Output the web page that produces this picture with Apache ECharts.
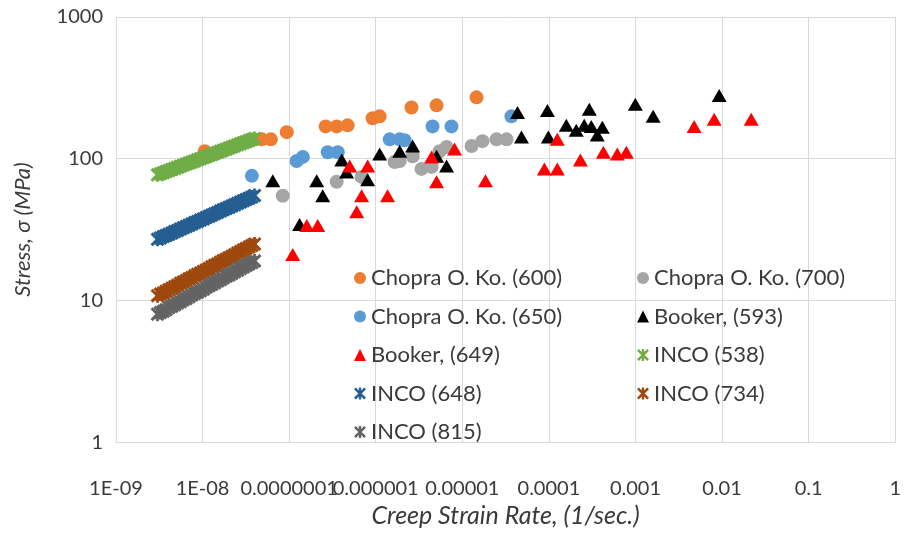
<!DOCTYPE html>
<html>
<head>
<meta charset="utf-8">
<script src="https://cdn.jsdelivr.net/npm/echarts@6/dist/echarts.min.js"></script>
<style>
html,body{margin:0;padding:0;background:#fff;}
#chart{width:904px;height:533px;}
</style>
</head>
<body>
<div id="chart"></div>
<script>
// ---- Data ----
const xTickLabels = ['1E-09','1E-08','0.0000001','0.000001','0.00001','0.0001','0.001','0.01','0.1','1'];
const yTickLabels = ['1','10','100','1000'];

const chopra600Rate   = [1.06e-8, 4.83e-8, 6.14e-8, 9.37e-8, 2.64e-7, 3.54e-7, 4.74e-7, 9.2e-7, 1.11e-6, 2.59e-6, 5.04e-6, 1.46e-5];
const chopra600Stress = [113, 137, 137, 154, 169, 169, 172, 193, 199, 230, 238, 271];

const chopra700Rate   = [8.43e-8, 3.54e-7, 6.87e-7, 1.65e-6, 1.89e-6, 2.67e-6, 3.38e-6, 4.42e-6, 5.46e-6, 6.58e-6, 1.28e-5, 1.71e-5, 2.48e-5, 3.24e-5];
const chopra700Stress = [54.8, 68.7, 74.4, 94.8, 96.4, 104, 84.7, 87.5, 113, 121, 123, 133, 137, 137];

const chopra650Rate   = [3.71e-8, 1.22e-7, 1.44e-7, 2.79e-7, 3.64e-7, 1.45e-6, 1.89e-6, 2.15e-6, 4.53e-6, 7.5e-6, 3.69e-5];
const chopra650Stress = [75.7, 96.4, 103, 111, 111, 137, 137, 135, 169, 169, 199];

const booker593Rate   = [6.47e-8, 1.32e-7, 2.08e-7, 2.44e-7, 4.05e-7, 4.61e-7, 8.07e-7, 1.11e-6, 1.89e-6, 2.67e-6, 5.04e-6, 6.58e-6,
                         4.34e-5, 4.82e-5, 9.62e-5, 9.86e-5, 1.59e-4, 2.07e-4, 2.56e-4, 2.93e-4, 3.09e-4, 3.62e-4, 4.14e-4, 9.96e-4, 1.6e-3, 9.27e-3];
const booker593Stress = [69.8, 34.3, 69.8, 54.8, 97.9, 80.7, 70.9, 108, 113, 123, 104, 88.9,
                         212, 142, 219, 142, 172, 159, 172, 223, 169, 147, 167, 242, 199, 279];

const booker649Rate   = [1.1e-7, 1.6e-7, 2.14e-7, 5.0e-7, 6.03e-7, 6.87e-7, 8.07e-7, 1.37e-6, 4.42e-6, 5.04e-6, 8.13e-6, 1.85e-5,
                         8.87e-5, 1.25e-4, 1.25e-4, 2.31e-4, 4.26e-4, 6.17e-4, 7.84e-4, 4.76e-3, 8.11e-3, 2.17e-2];
const booker649Stress = [21.1, 33.8, 33.8, 88.9, 42.3, 54.8, 88.9, 54.8, 103, 68.7, 117, 69.8,
                         84.7, 84.7, 137, 97.9, 111, 108, 111, 169, 190, 190];

const incoRate = [3.02e-9, 3.26e-9, 3.52e-9, 3.79e-9, 4.09e-9, 4.42e-9, 4.76e-9, 5.14e-9, 5.55e-9, 5.98e-9, 6.46e-9, 6.97e-9,
                  7.52e-9, 8.11e-9, 8.75e-9, 9.44e-9, 1.02e-8, 1.10e-8, 1.19e-8, 1.28e-8, 1.38e-8, 1.49e-8, 1.61e-8, 1.73e-8,
                  1.87e-8, 2.02e-8, 2.18e-8, 2.35e-8, 2.54e-8, 2.74e-8, 2.95e-8, 3.18e-8, 3.44e-8, 3.71e-8, 3.98e-8];
const inco538Stress = [77, 78.3, 79.7, 81.1, 82.5, 84, 85.4, 86.9, 88.5, 90, 91.6, 93.2, 94.8, 96.5, 98.2, 99.9, 101.6, 103.4,
                       105.2, 107.1, 109, 110.9, 112.8, 114.8, 116.8, 118.8, 120.9, 123, 125.2, 127.4, 129.6, 131.9, 134.2, 136.5, 139];
const inco648Stress = [27, 27.6, 28.2, 28.7, 29.3, 29.9, 30.6, 31.2, 31.9, 32.5, 33.2, 33.9, 34.6, 35.4, 36.1, 36.9, 37.6, 38.4,
                       39.2, 40.1, 40.9, 41.8, 42.7, 43.6, 44.5, 45.4, 46.4, 47.4, 48.4, 49.4, 50.4, 51.5, 52.6, 53.7, 55];
const inco734Stress = [10.8, 11.1, 11.3, 11.6, 11.9, 12.2, 12.5, 12.8, 13.2, 13.5, 13.8, 14.2, 14.5, 14.9, 15.3, 15.6, 16.0, 16.4,
                       16.8, 17.3, 17.7, 18.1, 18.6, 19.1, 19.5, 20.0, 20.5, 21.0, 21.6, 22.1, 22.7, 23.2, 23.8, 24.4, 25.0];
const inco815Stress = [8.0, 8.2, 8.4, 8.6, 8.9, 9.1, 9.3, 9.6, 9.8, 10.1, 10.3, 10.6, 10.9, 11.2, 11.4, 11.7, 12.0, 12.4,
                       12.7, 13.0, 13.3, 13.7, 14.0, 14.4, 14.8, 15.1, 15.5, 15.9, 16.3, 16.8, 17.2, 17.6, 18.1, 18.5, 19.0];

// ---- Chart ----
const FONT = 'Lato, "Open Sans", sans-serif';
const TEXT = '#3a3a3a';
const GRID = '#d9d9d9';
const STAR = 'path://M4 0L6 0L6 10L4 10Z M0 1.5L1.5 0L10 8.5L8.5 10Z M8.5 0L10 1.5L1.5 10L0 8.5Z';

function pairs(xs, ys){ return xs.map((x, i) => [x, ys[i]]); }

function sc(name, xs, ys, color, symbol, size){
  return {
    name: name, type: 'scatter', data: pairs(xs, ys),
    symbol: symbol, symbolSize: size,
    itemStyle: { color: color, opacity: 1 },
    emphasis: { disabled: true }
  };
}

const series = [
  sc('Chopra O. Ko. (600)', chopra600Rate, chopra600Stress, '#ED7D31', 'circle', 14),
  sc('Chopra O. Ko. (700)', chopra700Rate, chopra700Stress, '#A5A5A5', 'circle', 14),
  sc('Chopra O. Ko. (650)', chopra650Rate, chopra650Stress, '#5B9BD5', 'circle', 14),
  sc('Booker, (593)', booker593Rate, booker593Stress, '#000000', 'triangle', [15, 13]),
  sc('Booker, (649)', booker649Rate, booker649Stress, '#FF0000', 'triangle', [15, 13]),
  sc('INCO (538)', incoRate, inco538Stress, '#70AD47', STAR, 14),
  sc('INCO (648)', incoRate, inco648Stress, '#255E91', STAR, 14),
  sc('INCO (734)', incoRate, inco734Stress, '#9E480E', STAR, 14),
  sc('INCO (815)', incoRate, inco815Stress, '#636363', STAR, 14)
];

const legendCommon = {
  orient: 'vertical', itemWidth: 12, itemHeight: 12, itemGap: 16.5,
  textStyle: { fontFamily: FONT, fontSize: 22, color: TEXT, padding: [0, 0, 0, 0] },
  backgroundColor: 'transparent', padding: 0, selectedMode: false
};

const option = {
  animation: false,
  backgroundColor: '#ffffff',
  grid: { left: 116, right: 8, top: 17, bottom: 88, containLabel: false },
  legend: [
    Object.assign({ left: 354, top: 267, data: ['Chopra O. Ko. (600)', 'Chopra O. Ko. (650)', 'Booker, (649)', 'INCO (648)', 'INCO (815)'] }, legendCommon),
    Object.assign({ left: 637, top: 267, data: ['Chopra O. Ko. (700)', 'Booker, (593)', 'INCO (538)', 'INCO (734)'] }, legendCommon)
  ],
  xAxis: {
    type: 'log', logBase: 10, min: 1e-9, max: 1,
    name: 'Creep Strain Rate, (1/sec.)', nameLocation: 'middle', nameGap: 59,
    nameTextStyle: { fontFamily: FONT, fontSize: 25, fontStyle: 'italic', color: TEXT },
    axisLine: { show: true, lineStyle: { color: GRID, width: 1 } },
    axisTick: { show: false },
    splitLine: { show: true, lineStyle: { color: GRID, width: 1 } },
    minorSplitLine: { show: false },
    axisLabel: {
      fontFamily: FONT, fontSize: 20, color: TEXT, margin: 36, hideOverlap: false,
      showMinLabel: true, showMaxLabel: true,
      formatter: function (v) { return xTickLabels[Math.round(Math.log10(v)) + 9]; }
    }
  },
  yAxis: {
    type: 'log', logBase: 10, min: 1, max: 1000,
    name: 'Stress, σ (MPa)', nameLocation: 'middle', nameGap: 82, nameRotate: 90,
    nameTextStyle: { fontFamily: FONT, fontSize: 22, fontStyle: 'italic', color: TEXT },
    axisLine: { show: true, lineStyle: { color: GRID, width: 1 } },
    axisTick: { show: false },
    splitLine: { show: true, lineStyle: { color: GRID, width: 1 } },
    axisLabel: {
      fontFamily: FONT, fontSize: 20, color: TEXT, margin: 13,
      showMinLabel: true, showMaxLabel: true,
      formatter: function (v) { return yTickLabels[Math.round(Math.log10(v))]; }
    }
  },
  series: series
};

const chart = echarts.init(document.getElementById('chart'), null, { renderer: 'canvas' });
chart.setOption(option);
</script>
</body>
</html>
